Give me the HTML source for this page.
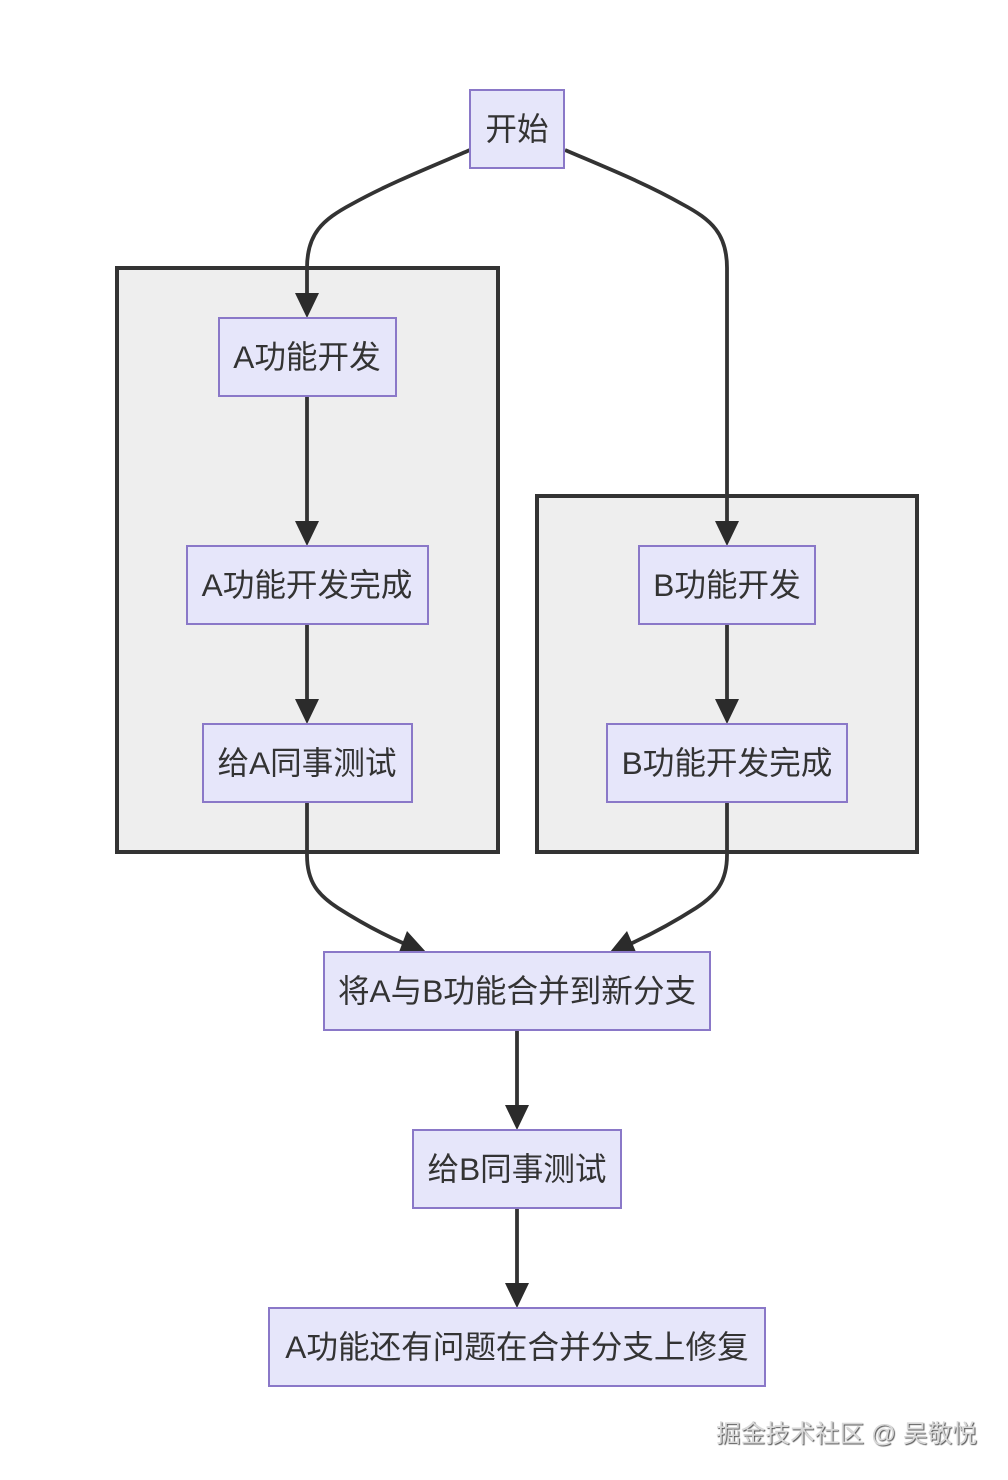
<!DOCTYPE html>
<html>
<head>
<meta charset="utf-8">
<style>
html,body{margin:0;padding:0;background:#fff;}
body{width:1008px;height:1480px;position:relative;overflow:hidden;}
svg{position:absolute;left:0;top:0;}
text{font-family:"Liberation Sans","Noto Sans CJK SC",sans-serif;font-size:31.6px;fill:#333;text-anchor:middle;}
.n{fill:#e6e6fa;stroke:#8a78c8;stroke-width:2;}
.c{fill:#eee;stroke:#333;stroke-width:4;}
.e{fill:none;stroke:#333;stroke-width:3.8;}
.a{fill:#2b2b2b;}
#wm{position:absolute;left:716px;top:1418px;font-family:"Liberation Sans","Noto Sans CJK SC",sans-serif;font-size:24.7px;line-height:34px;color:#d8d8d8;white-space:nowrap;text-shadow:1px 1px 1px #555;}
</style>
</head>
<body>
<svg width="1008" height="1480" viewBox="0 0 1008 1480">
<rect class="c" x="117" y="268" width="381" height="584"/>
<rect class="c" x="537" y="496" width="380" height="356"/>

<path class="e" d="M470,150 C428,168 388,184 352,204 C322,220 307,234 307,268 L307,296"/>
<path class="e" d="M565,150 C607,168 647,184 682,204 C712,220 727,234 727,268 L727,524"/>
<path class="e" d="M307,396 L307,524"/>
<path class="e" d="M307,624 L307,702"/>
<path class="e" d="M727,624 L727,702"/>
<path class="e" d="M307,802 L307,855 C307,882 318,895 338,908 C360,922 382,934 405,944"/>
<path class="e" d="M727,802 L727,855 C727,882 716,895 696,908 C674,922 652,934 630,944"/>
<path class="e" d="M517,1030 L517,1108"/>
<path class="e" d="M517,1208 L517,1286"/>

<polygon class="a" points="295,293 319,293 307,318"/>
<polygon class="a" points="295,521 319,521 307,546"/>
<polygon class="a" points="295,699 319,699 307,724"/>
<polygon class="a" points="715,521 739,521 727,546"/>
<polygon class="a" points="715,699 739,699 727,724"/>
<polygon class="a" points="505,1105 529,1105 517,1130"/>
<polygon class="a" points="505,1283 529,1283 517,1308"/>
<polygon class="a" points="407,931 399,952 426,952"/>
<polygon class="a" points="627,931 610,952 636,952"/>

<rect class="n" x="470" y="90" width="94" height="78"/>
<text x="517" y="140">开始</text>
<rect class="n" x="219" y="318" width="177" height="78"/>
<text x="307" y="368">A功能开发</text>
<rect class="n" x="187" y="546" width="241" height="78"/>
<text x="307" y="596">A功能开发完成</text>
<rect class="n" x="203" y="724" width="209" height="78"/>
<text x="307" y="774">给A同事测试</text>
<rect class="n" x="639" y="546" width="176" height="78"/>
<text x="727" y="596">B功能开发</text>
<rect class="n" x="607" y="724" width="240" height="78"/>
<text x="727" y="774">B功能开发完成</text>
<rect class="n" x="324" y="952" width="386" height="78"/>
<text x="517" y="1002">将A与B功能合并到新分支</text>
<rect class="n" x="413" y="1130" width="208" height="78"/>
<text x="517" y="1180">给B同事测试</text>
<rect class="n" x="269" y="1308" width="496" height="78"/>
<text x="517" y="1358">A功能还有问题在合并分支上修复</text>
</svg>
<div id="wm">掘金技术社区 @ 吴敬悦</div>
</body>
</html>
